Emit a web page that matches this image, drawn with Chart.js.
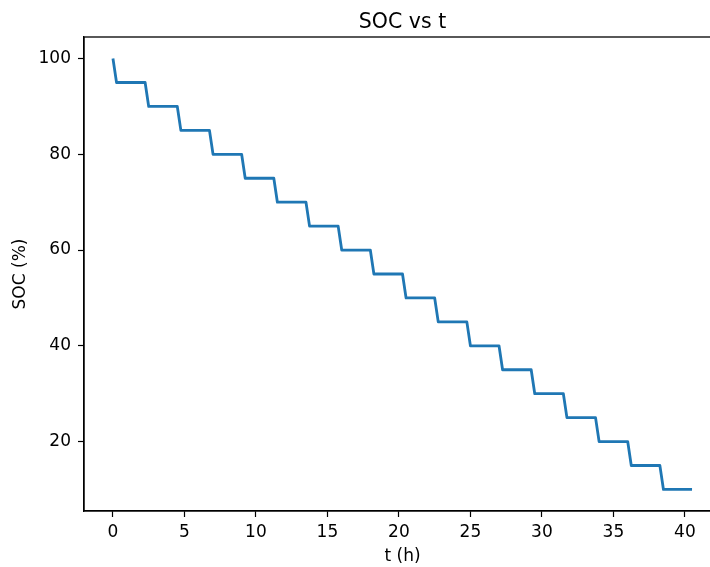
<!DOCTYPE html>
<html>
<head>
<meta charset="utf-8">
<script src="https://cdn.jsdelivr.net/npm/chart.js@4.4.1/dist/chart.umd.min.js"></script>
<style>
html,body{margin:0;padding:0;background:#fff;overflow:hidden;}
#wrap{width:725px;height:567px;}
</style>
</head>
<body>
<div id="wrap"><canvas id="c" width="725" height="567"></canvas></div>
<script>
const chartTitle = 'SOC vs t';
const xLabel = 't (h)';
const yLabel = 'SOC (%)';
const tHours = [0,0.25,2.25,2.5,4.5,4.75,6.75,7,9,9.25,11.25,11.5,13.5,13.75,15.75,16,18,18.25,20.25,20.5,22.5,22.75,24.75,25,27,27.25,29.25,29.5,31.5,31.75,33.75,34,36,36.25,38.25,38.5,40.5];
const socPct = [100,95,95,90,90,85,85,80,80,75,75,70,70,65,65,60,60,55,55,50,50,45,45,40,40,35,35,30,30,25,25,20,20,15,15,10,10];
const xTicks = [0,5,10,15,20,25,30,35,40];
const yTicks = [20,40,60,80,100];

const FONT = 'DejaVu Sans';
const points = tHours.map((t,i)=>({x:t,y:socPct[i]}));

const framePlugin = {
  id:'frame',
  afterDraw(chart){
    const {ctx, chartArea:a} = chart;
    ctx.save();
    ctx.strokeStyle = '#000';
    ctx.lineWidth = 1.3;
    ctx.strokeRect(a.left, a.top, a.right - a.left, a.bottom - a.top);
    ctx.fillStyle = '#000';
    ctx.font = '20.5px "' + FONT + '"';
    ctx.textAlign = 'center';
    ctx.textBaseline = 'alphabetic';
    ctx.fillText(chartTitle, (a.left + a.right)/2, 27.5);
    ctx.restore();
  }
};

new Chart(document.getElementById('c'), {
  type:'line',
  data:{datasets:[{data:points, borderColor:'#1f77b4', borderWidth:2.8, pointRadius:0, tension:0, fill:false, borderJoinStyle:'round', borderCapStyle:'butt'}]},
  options:{
    responsive:false, animation:false,
    layout:{padding:{top:37,right:4,left:0,bottom:0}},
    plugins:{legend:{display:false}, tooltip:{enabled:false}},
    scales:{
      x:{type:'linear', min:-2.025, max:42.525,
        afterBuildTicks:s=>{s.ticks = xTicks.map(v=>({value:v}));},
        afterFit:s=>{s.height = 56;},
        grid:{display:true, drawOnChartArea:false, drawTicks:true, tickLength:6, color:'#000', tickWidth:1.2},
        border:{display:true, color:'#000', width:1.3},
        ticks:{color:'#000', font:{family:FONT, size:17}, padding:5, maxRotation:0, autoSkip:false},
        title:{display:true, text:xLabel, color:'#000', font:{family:FONT, size:17}, padding:{top:0,bottom:0}}
      },
      y:{type:'linear', min:5.5, max:104.5,
        afterBuildTicks:s=>{s.ticks = yTicks.map(v=>({value:v}));},
        afterFit:s=>{s.width = 84;},
        grid:{display:true, drawOnChartArea:false, drawTicks:true, tickLength:6, color:'#000', tickWidth:1.2},
        border:{display:true, color:'#000', width:1.3},
        ticks:{color:'#000', font:{family:FONT, size:17}, padding:7, autoSkip:false},
        title:{display:true, text:yLabel, color:'#000', font:{family:FONT, size:17}, padding:{top:10,bottom:0}}
      }
    }
  },
  plugins:[framePlugin]
});
</script>
</body>
</html>
